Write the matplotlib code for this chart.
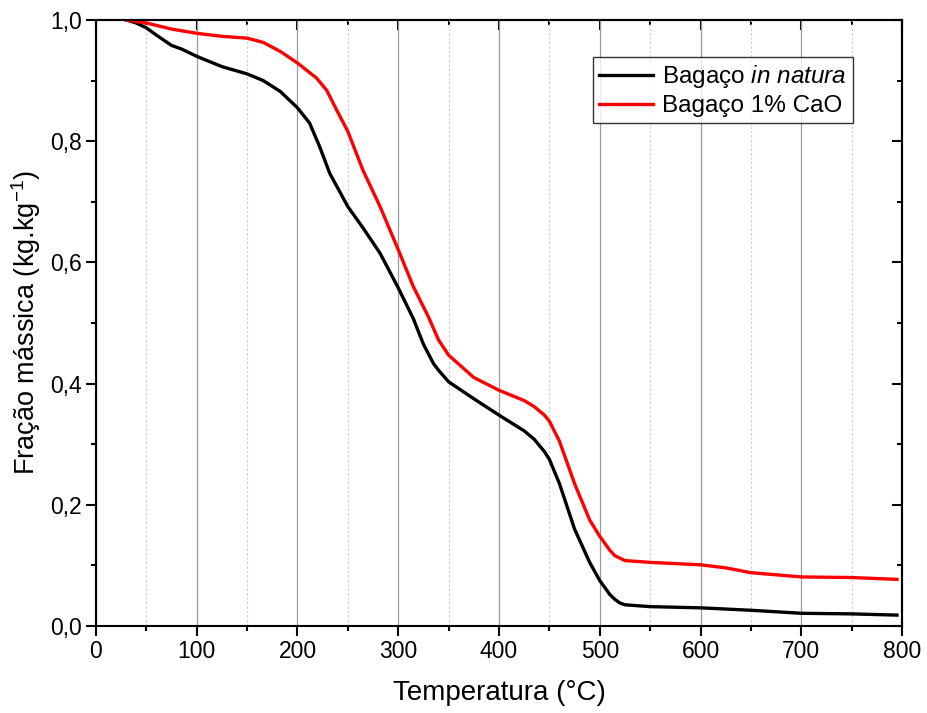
import numpy as np
import matplotlib.pyplot as plt
from matplotlib.ticker import MultipleLocator, FuncFormatter

plt.rcParams['font.family'] = ['Liberation Sans', 'DejaVu Sans']
plt.rcParams['mathtext.fontset'] = 'custom'
plt.rcParams['mathtext.rm'] = 'Liberation Sans'
plt.rcParams['mathtext.it'] = 'Liberation Sans:italic'

# Temperature (°C) and mass fraction
temp_natura = [30, 40, 50, 60, 75, 85, 100, 125, 150, 166, 183, 200, 212, 222, 232,
               250, 265, 282, 300, 315, 325, 335, 340, 350, 375, 400, 425, 435, 445, 450,
               460, 475, 490, 500, 510, 515, 520, 525, 550, 600, 650, 700, 750, 795]
mass_natura = [1.0, 0.995, 0.987, 0.975, 0.958, 0.952, 0.940, 0.923, 0.911, 0.900, 0.882,
               0.855, 0.83, 0.791, 0.747, 0.692, 0.657, 0.615, 0.558, 0.507, 0.465, 0.433,
               0.422, 0.403, 0.375, 0.348, 0.322, 0.308, 0.288, 0.275, 0.235, 0.16, 0.105,
               0.075, 0.052, 0.044, 0.038, 0.035, 0.032, 0.030, 0.026, 0.021, 0.020, 0.018]

temp_cao = [30, 50, 75, 100, 125, 150, 166, 183, 200, 219, 229, 239, 250, 265, 282,
            300, 315, 330, 340, 350, 375, 400, 425, 435, 445, 450, 460, 475, 490, 500,
            510, 515, 525, 550, 600, 625, 650, 700, 750, 795]
mass_cao = [1.0, 0.995, 0.985, 0.978, 0.973, 0.970, 0.963, 0.948, 0.929, 0.904, 0.884,
            0.851, 0.816, 0.752, 0.692, 0.621, 0.56, 0.51, 0.472, 0.447, 0.41, 0.389, 0.372,
            0.362, 0.348, 0.338, 0.305, 0.235, 0.175, 0.148, 0.125, 0.116, 0.108, 0.105,
            0.101, 0.096, 0.088, 0.081, 0.080, 0.077]

fig = plt.figure(figsize=(9.28, 7.13), dpi=100)
ax = fig.add_axes([0.1034, 0.122, 0.8686, 0.850])

ax.plot(temp_natura, mass_natura, color='black', lw=2.4, label='Bagaço $\\it{in\\ natura}$')
ax.plot(temp_cao, mass_cao, color='#ff0000', lw=2.4, label='Bagaço 1% CaO')

ax.set_xlim(0, 800)
ax.set_ylim(0, 1.0)
ax.xaxis.set_major_locator(MultipleLocator(100))
ax.xaxis.set_minor_locator(MultipleLocator(50))
ax.yaxis.set_major_locator(MultipleLocator(0.2))
ax.yaxis.set_minor_locator(MultipleLocator(0.1))
ax.yaxis.set_major_formatter(FuncFormatter(lambda v, p: f'{v:.1f}'.replace('.', ',')))

ax.grid(True, which='major', axis='x', color='#999999', lw=0.9)
ax.grid(True, which='minor', axis='x', color='#cccccc', lw=0.8, ls=(0, (2, 2)))
ax.set_axisbelow(True)

for s in ax.spines.values():
    s.set_linewidth(1.5)
ax.tick_params(which='major', direction='out', length=7.2, width=1.5, labelsize=16.5,
               colors='black', pad=3)
ax.tick_params(which='minor', direction='out', length=3.8, width=1.5)

top = ax.secondary_xaxis('top')
top.xaxis.set_major_locator(MultipleLocator(100))
top.xaxis.set_minor_locator(MultipleLocator(50))
top.tick_params(which='major', direction='in', length=7.2, width=1.5, labeltop=False)
top.tick_params(which='minor', direction='in', length=3.8, width=1.5)
top.spines['top'].set_linewidth(1.5)

right = ax.secondary_yaxis('right')
right.yaxis.set_major_locator(MultipleLocator(0.2))
right.yaxis.set_minor_locator(MultipleLocator(0.1))
right.tick_params(which='major', direction='in', length=7.2, width=1.5, labelright=False)
right.tick_params(which='minor', direction='in', length=3.8, width=1.5)
right.spines['right'].set_linewidth(1.5)

ax.set_xlabel('Temperatura (°C)', fontsize=20, labelpad=12)
ax.set_ylabel('Fração mássica (kg.kg$^{\\mathrm{-1}}$)', fontsize=19.5, labelpad=5)

leg = ax.legend(loc='upper right', bbox_to_anchor=(0.939, 0.939), fontsize=17.5,
                frameon=True, fancybox=False, edgecolor='black', borderaxespad=0,
                handlelength=2.2, handletextpad=0.4, borderpad=0.25, labelspacing=0.22,
                handleheight=0.6)
leg.get_frame().set_linewidth(1.0)

plt.savefig('out.png', dpi=100)
